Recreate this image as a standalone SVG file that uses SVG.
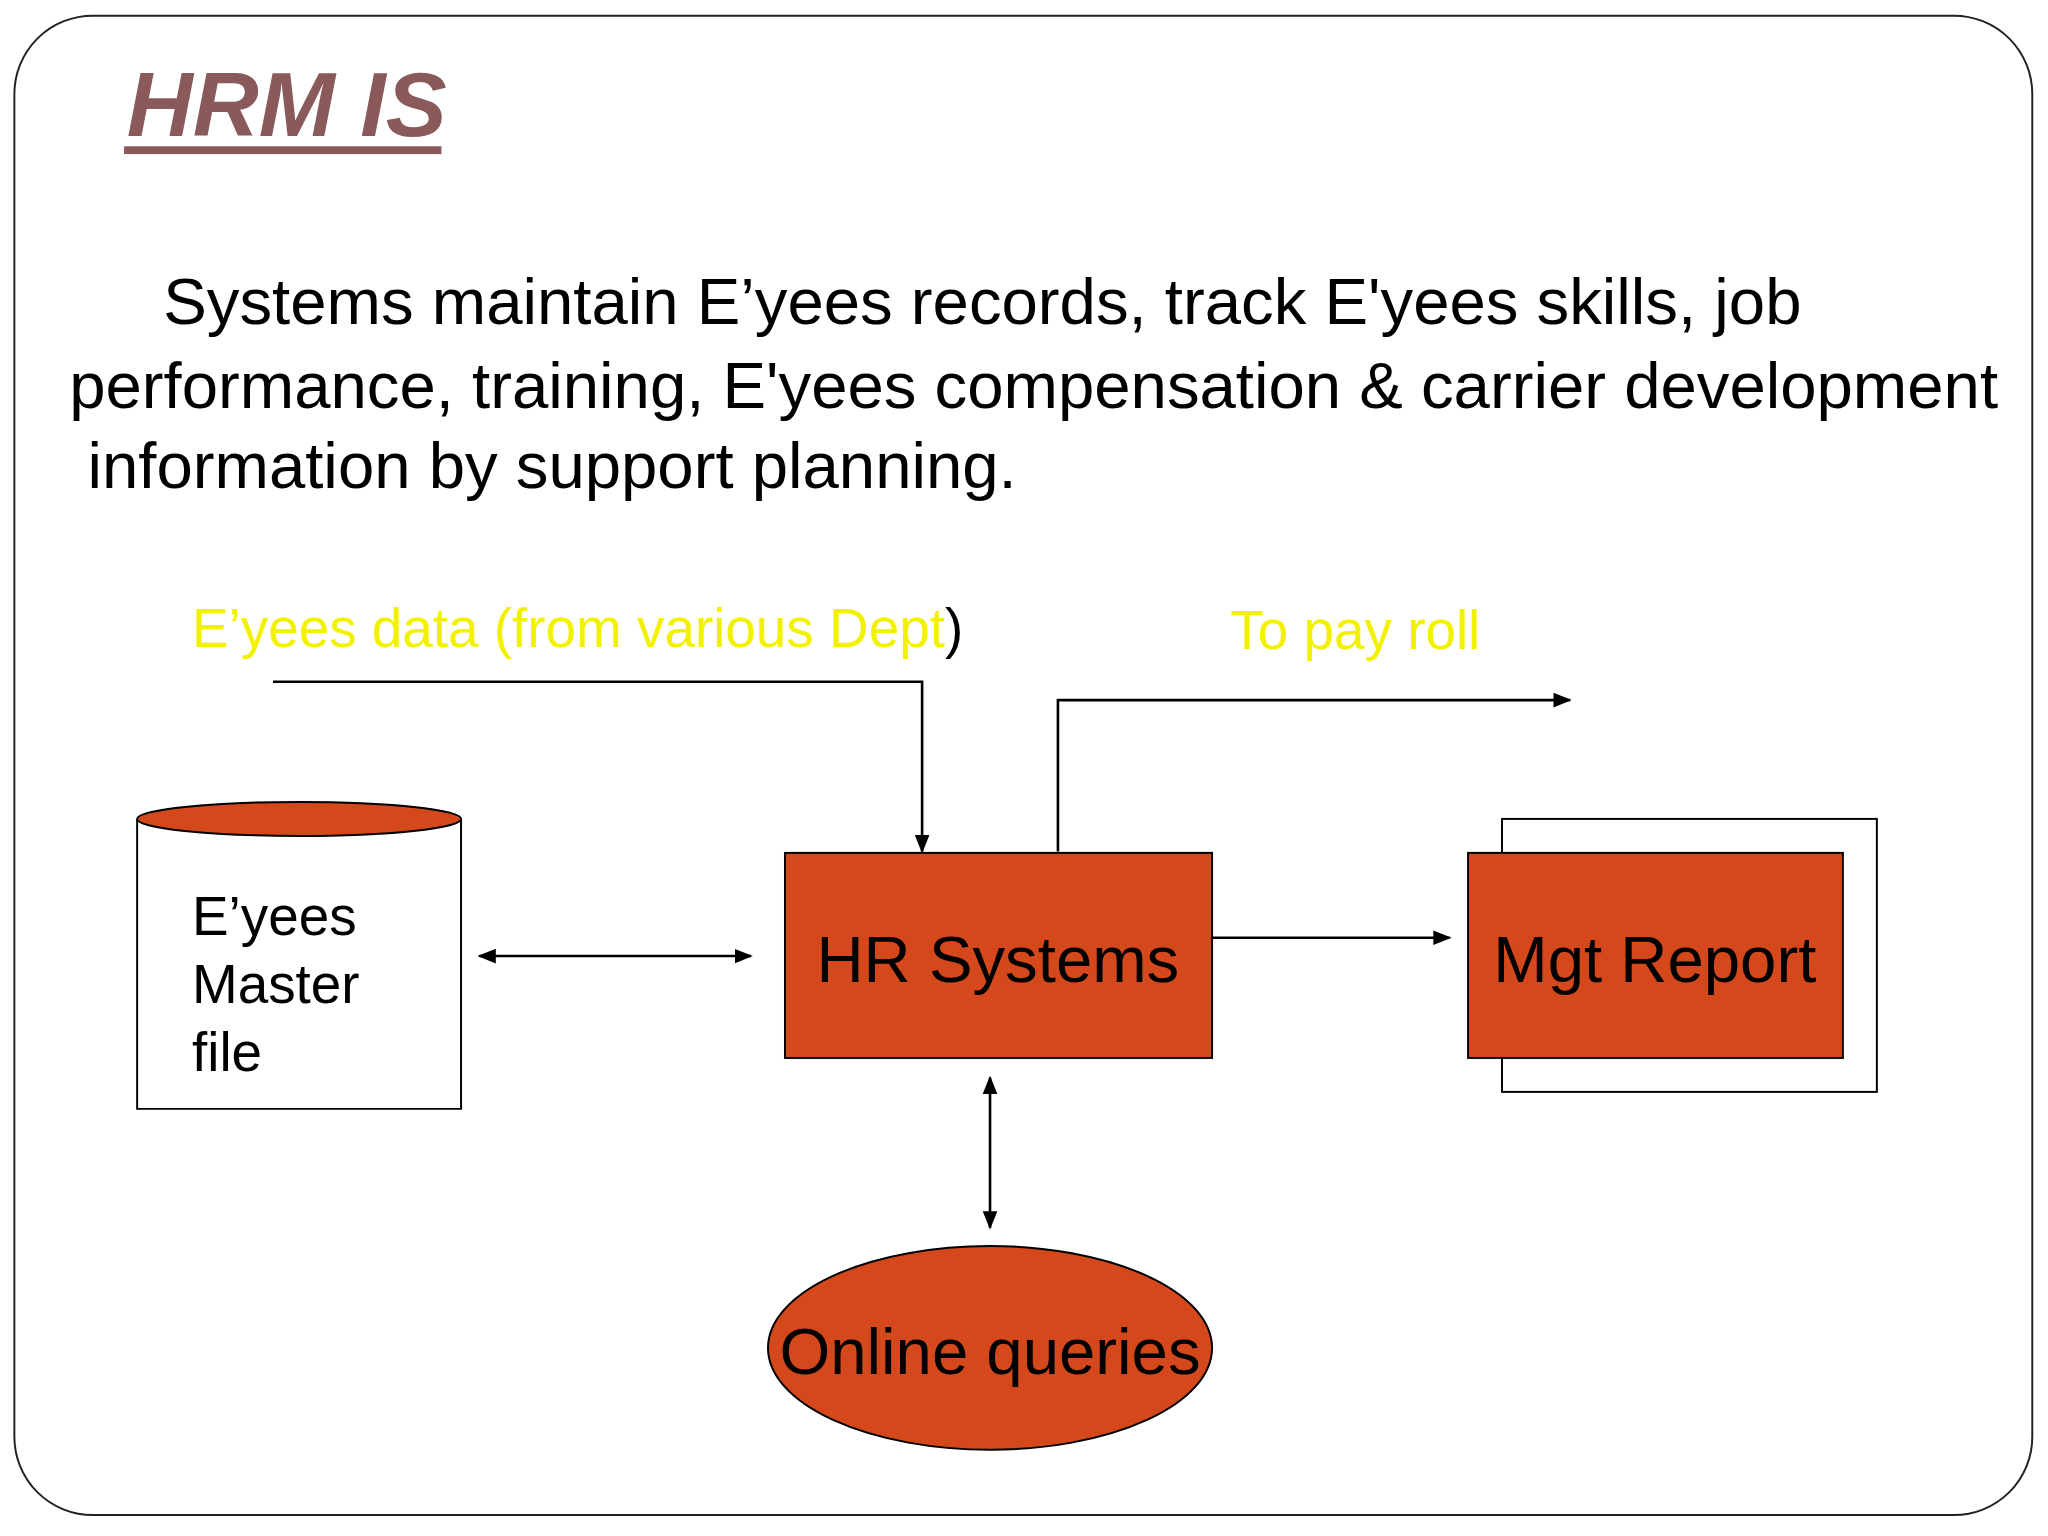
<svg xmlns="http://www.w3.org/2000/svg" width="2048" height="1536" viewBox="0 0 2048 1536">
<defs>
<marker id="ah" viewBox="0 0 10 10" refX="9" refY="5" markerWidth="7" markerHeight="7" orient="auto-start-reverse"><path d="M0,1 L10,5 L0,9 z" fill="#000"/></marker>
<clipPath id="cp"><rect x="0" y="0" width="1568" height="1176"/></clipPath>
</defs>
<style>
text{font-family:"Liberation Sans",Arial,sans-serif}
.c{stroke:#000;stroke-width:2;fill:none}
.o{fill:#D4481C;stroke:#000;stroke-width:1.5}
.y{fill:#F2F200;font-size:42px}
</style>
<rect width="2048" height="1536" fill="#fff"/>
<g transform="scale(1.3061)" clip-path="url(#cp)">
<rect x="11" y="12" width="1545" height="1148" rx="60" fill="#fff" stroke="#222" stroke-width="1.5"/>
<text x="97" y="104" font-size="70" font-weight="bold" font-style="italic" fill="#8A5A5A">HRM IS</text>
<rect x="95" y="112" width="243" height="6" fill="#8A5A5A"/>
<g font-size="50" fill="#000">
<text x="125" y="248">Systems maintain E’yees records, track E'yees skills, job</text>
<text x="53" y="312">performance, training, E'yees compensation &amp; carrier development</text>
<text x="67" y="374">information by support planning.</text>
</g>
<text x="147" y="495" class="y">E’yees data (from various Dept<tspan fill="#000">)</tspan></text>
<text x="942" y="497" class="y">To pay roll</text>
<g id="connectors">
<path class="c" d="M209,522 H706 V652" marker-end="url(#ah)"/>
<path class="c" d="M810,652 V536 H1202" marker-end="url(#ah)"/>
<path class="c" d="M367,732 H575" marker-start="url(#ah)" marker-end="url(#ah)"/>
<path class="c" d="M928,718 H1110" marker-end="url(#ah)"/>
<path class="c" d="M758,825 V940" marker-start="url(#ah)" marker-end="url(#ah)"/>
</g>
<g id="master">
<path d="M105,627 V849 H353 V627" fill="#fff" stroke="#000" stroke-width="1.5"/>
<ellipse cx="229" cy="627" rx="124" ry="13" class="o"/>
<text x="147" y="716" font-size="42">E’yees</text>
<text x="147" y="768" font-size="42">Master</text>
<text x="147" y="820" font-size="42">file</text>
</g>
<g id="hr">
<rect x="601" y="653" width="327" height="157" class="o"/>
<text x="764" y="752" font-size="50" text-anchor="middle">HR Systems</text>
</g>
<g id="mgt">
<rect x="1150" y="627" width="287" height="209" fill="#fff" stroke="#000" stroke-width="1.5"/>
<rect x="1124" y="653" width="287" height="157" class="o"/>
<text x="1267" y="752" font-size="50" text-anchor="middle">Mgt Report</text>
</g>
<g id="online">
<ellipse cx="758" cy="1032" rx="170" ry="78" class="o"/>
<text x="758" y="1052" font-size="50" text-anchor="middle">Online queries</text>
</g>
</g>
</svg>
